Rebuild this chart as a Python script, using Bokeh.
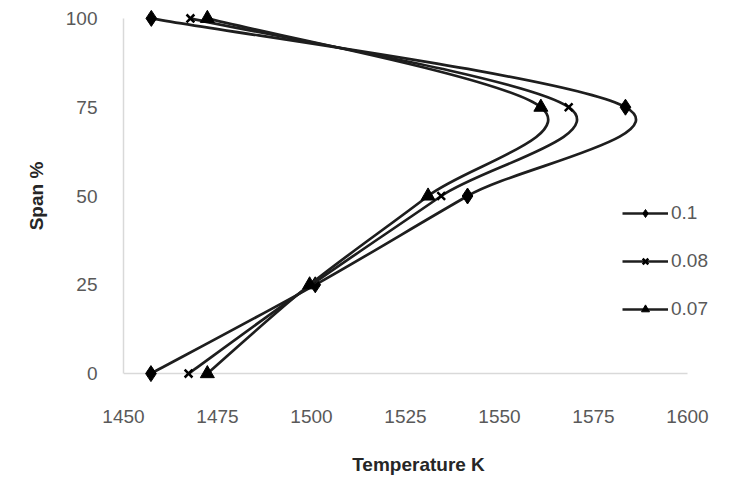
from bokeh.plotting import figure
from bokeh.models import Range1d, FixedTicker, Legend, LegendItem
from bokeh.embed import file_html
from bokeh.resources import INLINE

# ---- data ----
span = [100, 75, 50, 25, 0]
temp_01 = [1457.4, 1583.5, 1541.5, 1501.0, 1457.3]
temp_008 = [1467.8, 1568.4, 1534.5, 1500.0, 1467.3]
temp_007 = [1472.3, 1561.0, 1531.0, 1499.5, 1472.3]
series_labels = ["0.1", "0.08", "0.07"]
x_ticks = [1450, 1475, 1500, 1525, 1550, 1575, 1600]
y_ticks = [0, 25, 50, 75, 100]

FONT = "Liberation Sans"
LINE = "#1e1e1e"
AXIS = "#d9d9d9"
PAD = 2.5  # range padding (span units) so edge markers are not clipped


def smooth_controls(xs, ys, t=1.0 / 6.0):
    """Excel-like smoothed line: cubic Bezier control points per segment."""
    n = len(xs)
    out = dict(x0=[], y0=[], x1=[], y1=[], cx0=[], cy0=[], cx1=[], cy1=[])
    for i in range(n - 1):
        ip = max(i - 1, 0)
        inn = min(i + 2, n - 1)
        out["x0"].append(xs[i]); out["y0"].append(ys[i])
        out["x1"].append(xs[i + 1]); out["y1"].append(ys[i + 1])
        out["cx0"].append(xs[i] + (xs[i + 1] - xs[ip]) * t)
        out["cy0"].append(ys[i] + (ys[i + 1] - ys[ip]) * t)
        out["cx1"].append(xs[i + 1] - (xs[inn] - xs[i]) * t)
        out["cy1"].append(ys[i + 1] - (ys[inn] - ys[i]) * t)
    return out


p = figure(width=721, height=477, output_backend="svg", toolbar_location=None,
           x_range=Range1d(1450, 1450 + 590 / 3.76),
           y_range=Range1d(y_ticks[0] - PAD, y_ticks[-1] + PAD),
           min_border_left=123, min_border_right=8, min_border_top=9,
           min_border_bottom=93)
p.outline_line_color = None
p.xgrid.visible = False
p.ygrid.visible = False
p.background_fill_color = "white"

for ax in (p.xaxis[0], p.yaxis[0]):
    ax.axis_line_color = AXIS
    ax.axis_line_width = 1.5
    ax.major_tick_line_color = None
    ax.minor_tick_line_color = None
    ax.major_label_text_font = FONT
    ax.major_label_text_font_size = "19px"
    ax.major_label_text_color = "#595959"
    ax.axis_label_text_font = FONT
    ax.axis_label_text_font_size = "19px"
    ax.axis_label_text_font_style = "bold"
    ax.axis_label_text_color = "#262626"

p.xaxis.axis_line_color = None  # horizontal axis line drawn at span = 0 below
p.xaxis.ticker = FixedTicker(ticks=x_ticks)
p.yaxis.ticker = FixedTicker(ticks=y_ticks)
p.yaxis.bounds = (y_ticks[0], y_ticks[-1])
p.xaxis.major_label_standoff = 21
p.yaxis.major_label_standoff = 20
p.xaxis.axis_label = "Temperature K"
p.yaxis.axis_label = "Span %"
p.xaxis.axis_label_standoff = 28
p.yaxis.axis_label_standoff = 16

# horizontal axis line at span 0, from the first to the last x tick
p.segment(x0=[x_ticks[0]], y0=[y_ticks[0]], x1=[x_ticks[-1]], y1=[y_ticks[0]],
          line_color=AXIS, line_width=1.5)

markers = ["diamond", "x", "triangle"]
sizes = [16, 11, 14]
items = []
for temps, lab, mk, sz in zip([temp_01, temp_008, temp_007], series_labels, markers, sizes):
    c = smooth_controls(temps, span)
    br = p.bezier(x0="x0", y0="y0", x1="x1", y1="y1", cx0="cx0", cy0="cy0",
                  cx1="cx1", cy1="cy1", source=c, line_color=LINE, line_width=2.7)
    sr = p.scatter(temps, span, marker=mk, size=sz, fill_color="black",
                   line_color="black", line_width=2.5 if mk == "x" else 1)
    items.append(LegendItem(label=lab, renderers=[br, sr]))

legend = Legend(items=items, location=(499, 62), padding=0, margin=0,
                spacing=26, glyph_width=46, glyph_height=20, label_height=20,
                label_standoff=3, border_line_color=None,
                background_fill_alpha=0, label_text_font=FONT,
                label_text_font_size="19px", label_text_color="#595959")
p.add_layout(legend)

open("out.html", "w").write(file_html(p, INLINE))
